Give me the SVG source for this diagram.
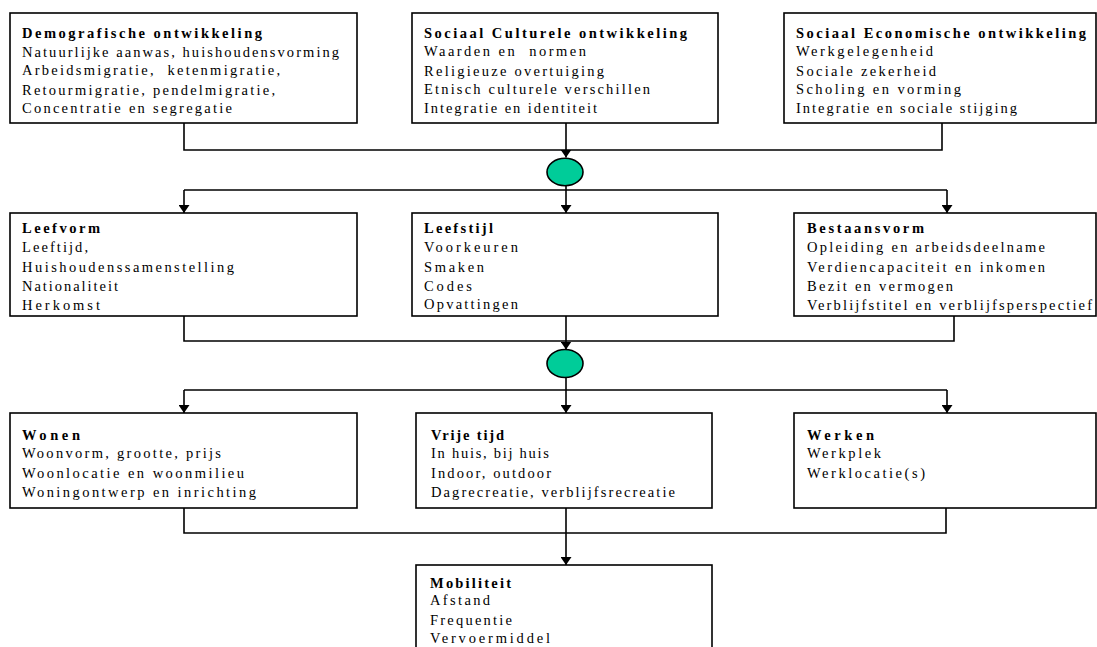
<svg xmlns="http://www.w3.org/2000/svg" width="1097" height="647" viewBox="0 0 1097 647">
<style>
.box{fill:#fff;stroke:#000;stroke-width:1.6}
.t{font-family:"Liberation Serif","Times New Roman",serif;font-size:14.5px;fill:#000}
.b{font-weight:bold}
.ln{fill:none;stroke:#000;stroke-width:1.6}
.arr{fill:none;stroke:#000;stroke-width:1.6;marker-end:url(#ah)}
.dot{fill:#00CC99;stroke:#000;stroke-width:1.6}
</style>
<defs>
<marker id="ah" viewBox="0 0 8 11" refX="8" refY="5.5" markerWidth="8" markerHeight="11" markerUnits="userSpaceOnUse" orient="auto">
<path d="M0,0 L8,5.5 L0,11 z" fill="#000"/>
</marker>
</defs>
<rect width="1097" height="647" fill="#fff"/>

<g id="connectors">
<polyline class="ln" points="184,123 184,150 942,150 942,123"/>
<line class="arr" x1="566" y1="123" x2="566" y2="157.5"/>
<line class="ln" x1="184" y1="190" x2="947" y2="190"/>
<line class="arr" x1="566" y1="185.5" x2="566" y2="213"/>
<line class="arr" x1="184" y1="190" x2="184" y2="213"/>
<line class="arr" x1="947" y1="190" x2="947" y2="213"/>
<polyline class="ln" points="184,316 184,341 954,341 954,316"/>
<line class="arr" x1="566" y1="316" x2="566" y2="349.5"/>
<line class="ln" x1="184" y1="390" x2="947" y2="390"/>
<line class="arr" x1="566" y1="377.5" x2="566" y2="413"/>
<line class="arr" x1="184" y1="390" x2="184" y2="413"/>
<line class="arr" x1="947" y1="390" x2="947" y2="413"/>
<polyline class="ln" points="184,508 184,533 946,533 946,508"/>
<line class="arr" x1="566" y1="508" x2="566" y2="565"/>
</g>

<g id="merge1"><ellipse class="dot" cx="565" cy="172" rx="18" ry="13.7"/></g>
<g id="merge2"><ellipse class="dot" cx="565" cy="363.5" rx="18" ry="14"/></g>

<g id="demografisch">
<rect class="box" x="10" y="13" width="347" height="110"/>
<text class="t b" x="22" y="38" textLength="240" lengthAdjust="spacing">Demografische ontwikkeling</text>
<text class="t" x="22" y="56.5" textLength="317" lengthAdjust="spacing">Natuurlijke aanwas, huishoudensvorming</text>
<text class="t" x="22" y="75" textLength="258" lengthAdjust="spacing" xml:space="preserve">Arbeidsmigratie,  ketenmigratie,</text>
<text class="t" x="22" y="94.5" textLength="253" lengthAdjust="spacing">Retourmigratie, pendelmigratie,</text>
<text class="t" x="22" y="113" textLength="210" lengthAdjust="spacing">Concentratie en segregatie</text>
</g>

<g id="sociaalcultureel">
<rect class="box" x="412" y="13" width="306" height="110"/>
<text class="t b" x="424" y="38" textLength="263" lengthAdjust="spacing">Sociaal Culturele ontwikkeling</text>
<text class="t" x="424" y="56" textLength="162" lengthAdjust="spacing" xml:space="preserve">Waarden en  normen</text>
<text class="t" x="424" y="76" textLength="180" lengthAdjust="spacing">Religieuze overtuiging</text>
<text class="t" x="424" y="94" textLength="226" lengthAdjust="spacing">Etnisch culturele verschillen</text>
<text class="t" x="424" y="113" textLength="173" lengthAdjust="spacing">Integratie en identiteit</text>
</g>

<g id="sociaaleconomisch">
<rect class="box" x="784" y="13" width="312" height="110"/>
<text class="t b" x="796" y="38" textLength="290" lengthAdjust="spacing">Sociaal Economische ontwikkeling</text>
<text class="t" x="796" y="56" textLength="137" lengthAdjust="spacing">Werkgelegenheid</text>
<text class="t" x="796" y="76" textLength="140" lengthAdjust="spacing">Sociale zekerheid</text>
<text class="t" x="796" y="94" textLength="165" lengthAdjust="spacing">Scholing en vorming</text>
<text class="t" x="796" y="113" textLength="221" lengthAdjust="spacing">Integratie en sociale stijging</text>
</g>

<g id="leefvorm">
<rect class="box" x="10" y="213" width="347" height="103"/>
<text class="t b" x="22" y="233" textLength="78" lengthAdjust="spacing">Leefvorm</text>
<text class="t" x="22" y="252" textLength="66" lengthAdjust="spacing">Leeftijd,</text>
<text class="t" x="22" y="272" textLength="212" lengthAdjust="spacing">Huishoudenssamenstelling</text>
<text class="t" x="22" y="291" textLength="96" lengthAdjust="spacing">Nationaliteit</text>
<text class="t" x="22" y="310" textLength="78" lengthAdjust="spacing">Herkomst</text>
</g>

<g id="leefstijl">
<rect class="box" x="412" y="213" width="306" height="103"/>
<text class="t b" x="424" y="233" textLength="69" lengthAdjust="spacing">Leefstijl</text>
<text class="t" x="424" y="252" textLength="94" lengthAdjust="spacing">Voorkeuren</text>
<text class="t" x="424" y="272" textLength="60" lengthAdjust="spacing">Smaken</text>
<text class="t" x="424" y="291" textLength="48" lengthAdjust="spacing">Codes</text>
<text class="t" x="424" y="309" textLength="94" lengthAdjust="spacing">Opvattingen</text>
</g>

<g id="bestaansvorm">
<rect class="box" x="794" y="213" width="302" height="103"/>
<text class="t b" x="807" y="233" textLength="117" lengthAdjust="spacing">Bestaansvorm</text>
<text class="t" x="807" y="252" textLength="238" lengthAdjust="spacing">Opleiding en arbeidsdeelname</text>
<text class="t" x="807" y="272" textLength="238" lengthAdjust="spacing">Verdiencapaciteit en inkomen</text>
<text class="t" x="807" y="291" textLength="146" lengthAdjust="spacing">Bezit en vermogen</text>
<text class="t" x="807" y="310" textLength="285" lengthAdjust="spacing">Verblijfstitel en verblijfsperspectief</text>
</g>

<g id="wonen">
<rect class="box" x="10" y="413" width="347" height="95"/>
<text class="t b" x="22" y="440" textLength="58" lengthAdjust="spacing">Wonen</text>
<text class="t" x="22" y="458" textLength="199" lengthAdjust="spacing">Woonvorm, grootte, prijs</text>
<text class="t" x="22" y="478" textLength="222" lengthAdjust="spacing">Woonlocatie en woonmilieu</text>
<text class="t" x="22" y="497" textLength="234" lengthAdjust="spacing">Woningontwerp en inrichting</text>
</g>

<g id="vrijetijd">
<rect class="box" x="416" y="413" width="296" height="95"/>
<text class="t b" x="431" y="440" textLength="73" lengthAdjust="spacing">Vrije tijd</text>
<text class="t" x="431" y="458" textLength="118" lengthAdjust="spacing">In huis, bij huis</text>
<text class="t" x="431" y="478" textLength="120" lengthAdjust="spacing">Indoor, outdoor</text>
<text class="t" x="431" y="497" textLength="244" lengthAdjust="spacing">Dagrecreatie, verblijfsrecreatie</text>
</g>

<g id="werken">
<rect class="box" x="794" y="413" width="302" height="95"/>
<text class="t b" x="807" y="440" textLength="67" lengthAdjust="spacing">Werken</text>
<text class="t" x="807" y="458" textLength="74" lengthAdjust="spacing">Werkplek</text>
<text class="t" x="807" y="478" textLength="118" lengthAdjust="spacing">Werklocatie(s)</text>
</g>

<g id="mobiliteit">
<rect class="box" x="416" y="565" width="296" height="100"/>
<text class="t b" x="430" y="588" textLength="81" lengthAdjust="spacing">Mobiliteit</text>
<text class="t" x="430" y="605" textLength="60" lengthAdjust="spacing">Afstand</text>
<text class="t" x="430" y="625" textLength="82" lengthAdjust="spacing">Frequentie</text>
<text class="t" x="430" y="643" textLength="120" lengthAdjust="spacing">Vervoermiddel</text>
</g>
</svg>
